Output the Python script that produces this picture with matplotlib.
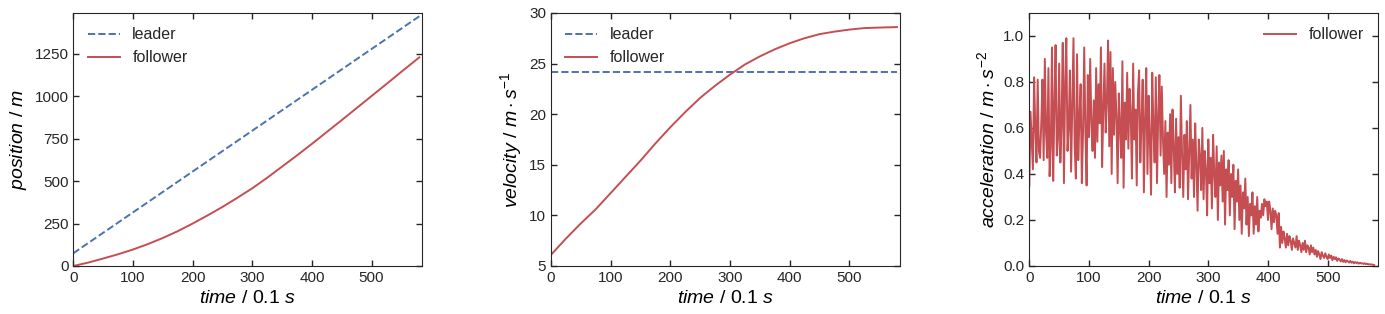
import matplotlib
matplotlib.use("Agg")
import matplotlib.pyplot as plt

# time axis unit is 0.1 s
t_leader = [0, 580]
leader_pos = [75, 1472]
leader_vel = [24.2, 24.2]

t_follow = [0, 25, 50, 75, 100, 125, 150, 175, 200, 225, 250, 275, 300,
            325, 350, 375, 400, 425, 450, 475, 500, 525, 550, 580]
follower_pos = [0, 20, 44, 69, 97, 129, 165, 205, 250, 298, 348, 402, 458,
                520, 586, 652, 720, 790, 860, 931, 1002, 1073, 1145, 1230]
follower_vel = [6.1, 7.7, 9.2, 10.6, 12.2, 13.8, 15.4, 17.1, 18.7, 20.2, 21.6, 22.8, 23.9,
                24.9, 25.7, 26.4, 27.0, 27.5, 27.9, 28.15, 28.35, 28.5, 28.55, 28.6]

# follower acceleration, sampled every 2 steps (0 .. 578)
follower_acc = [
    0.35, 0.67, 0.55, 0.42, 0.82, 0.60, 0.45, 0.81, 0.50, 0.47,
    0.62, 0.81, 0.46, 0.90, 0.58, 0.47, 0.86, 0.39, 0.52, 0.95,
    0.37, 0.70, 0.96, 0.48, 0.55, 0.88, 0.45, 0.62, 0.97, 0.36,
    0.80, 0.99, 0.50, 0.60, 0.85, 0.41, 0.70, 0.99, 0.52, 0.38,
    0.92, 0.46, 0.64, 0.79, 0.36, 0.58, 0.95, 0.58, 0.35, 0.83,
    0.56, 0.90, 0.62, 0.50, 0.72, 0.47, 0.86, 0.54, 0.79, 0.62,
    0.95, 0.43, 0.68, 0.88, 0.58, 0.72, 0.98, 0.52, 0.93, 0.40,
    0.86, 0.57, 0.80, 0.65, 0.36, 0.75, 0.60, 0.47, 0.89, 0.34,
    0.71, 0.55, 0.84, 0.51, 0.77, 0.66, 0.38, 0.88, 0.55, 0.68,
    0.35, 0.75, 0.85, 0.45, 0.62, 0.81, 0.32, 0.64, 0.86, 0.40,
    0.74, 0.55, 0.31, 0.84, 0.60, 0.45, 0.82, 0.36, 0.65, 0.83,
    0.48, 0.78, 0.55, 0.40, 0.63, 0.30, 0.58, 0.44, 0.66, 0.36,
    0.68, 0.52, 0.32, 0.64, 0.40, 0.56, 0.34, 0.74, 0.48, 0.30,
    0.57, 0.42, 0.63, 0.29, 0.50, 0.70, 0.38, 0.55, 0.30, 0.62,
    0.44, 0.24, 0.55, 0.48, 0.33, 0.60, 0.29, 0.50, 0.42, 0.22,
    0.55, 0.36, 0.47, 0.25, 0.57, 0.40, 0.30, 0.52, 0.20, 0.45,
    0.35, 0.48, 0.28, 0.50, 0.18, 0.42, 0.33, 0.46, 0.22, 0.40,
    0.30, 0.44, 0.16, 0.37, 0.28, 0.42, 0.20, 0.35, 0.14, 0.32,
    0.25, 0.38, 0.18, 0.30, 0.13, 0.27, 0.22, 0.32, 0.14, 0.26,
    0.18, 0.30, 0.15, 0.24, 0.21, 0.27, 0.22, 0.29, 0.26, 0.28,
    0.20, 0.28, 0.24, 0.16, 0.25, 0.19, 0.24, 0.22, 0.14, 0.23,
    0.08, 0.17, 0.10, 0.15, 0.12, 0.08, 0.14, 0.09, 0.13, 0.11,
    0.07, 0.12, 0.10, 0.08, 0.13, 0.07, 0.11, 0.09, 0.06, 0.10,
    0.07, 0.11, 0.06, 0.09, 0.08, 0.05, 0.09, 0.06, 0.08, 0.05,
    0.07, 0.04, 0.065, 0.05, 0.03, 0.06, 0.045, 0.035, 0.055, 0.04,
    0.03, 0.05, 0.035, 0.045, 0.025, 0.04, 0.03, 0.038, 0.022, 0.033,
    0.028, 0.02, 0.03, 0.018, 0.026, 0.016, 0.024, 0.02, 0.015, 0.022,
    0.014, 0.019, 0.012, 0.017, 0.013, 0.016, 0.01, 0.014, 0.011, 0.012,
    0.009, 0.012, 0.008, 0.01, 0.007, 0.008, 0.006, 0.007, 0.005, 0.004,
]
t_acc = list(range(0, 2 * len(follower_acc), 2))

BLUE = "#4C72B0"
RED = "#C44E52"

plt.rcParams["font.family"] = ["Liberation Sans", "DejaVu Sans"]
plt.rcParams["mathtext.fontset"] = "custom"
plt.rcParams["mathtext.it"] = "Liberation Sans:italic"
plt.rcParams["mathtext.rm"] = "Liberation Sans"
plt.rcParams["xtick.direction"] = "in"
plt.rcParams["ytick.direction"] = "in"
plt.rcParams["xtick.top"] = True
plt.rcParams["ytick.right"] = True
plt.rcParams["xtick.labelsize"] = 11
plt.rcParams["ytick.labelsize"] = 11
plt.rcParams["text.color"] = "#262626"
plt.rcParams["xtick.color"] = "#262626"
plt.rcParams["ytick.color"] = "#262626"
plt.rcParams["axes.edgecolor"] = "#262626"

fig = plt.figure(figsize=(13.85, 3.14), dpi=100)
ax1 = fig.add_axes([0.0529, 0.1529, 0.2520, 0.8060])
ax2 = fig.add_axes([0.3978, 0.1529, 0.2520, 0.8060])
ax3 = fig.add_axes([0.7432, 0.1529, 0.2520, 0.8060])

xlab = r"$time$ / 0.1 $s$"

ax1.plot(t_leader, leader_pos, "--", color=BLUE, lw=1.4, label="leader")
ax1.plot(t_follow, follower_pos, "-", color=RED, lw=1.4, label="follower")
ax1.set_ylim(0, 1492)
ax1.set_yticks([0, 250, 500, 750, 1000, 1250])
ax1.set_ylabel(r"$position$ / $m$", fontsize=14)

ax2.plot(t_leader, leader_vel, "--", color=BLUE, lw=1.4, label="leader")
ax2.plot(t_follow, follower_vel, "-", color=RED, lw=1.4, label="follower")
ax2.set_ylim(5, 30)
ax2.set_ylabel(r"$velocity$ / $m \cdot s^{-1}$", fontsize=14)

ax3.plot(t_acc, follower_acc, "-", color=RED, lw=1.4, label="follower")
ax3.set_ylim(0, 1.1)
ax3.set_yticks([0.0, 0.2, 0.4, 0.6, 0.8, 1.0])
ax3.set_ylabel(r"$acceleration$ / $m \cdot s^{-2}$", fontsize=14)

for ax in (ax1, ax2, ax3):
    ax.set_xlim(0, 585)
    ax.set_xlabel(xlab, fontsize=14)
    ax.set_xticks([0, 100, 200, 300, 400, 500])
    ax.tick_params(length=4, width=1)

ax1.legend(loc="upper left", frameon=False, fontsize=11.5)
ax2.legend(loc="upper left", frameon=False, fontsize=11.5)
ax3.legend(loc="upper right", frameon=False, fontsize=11.5)

fig.savefig("out.png", dpi=100)
